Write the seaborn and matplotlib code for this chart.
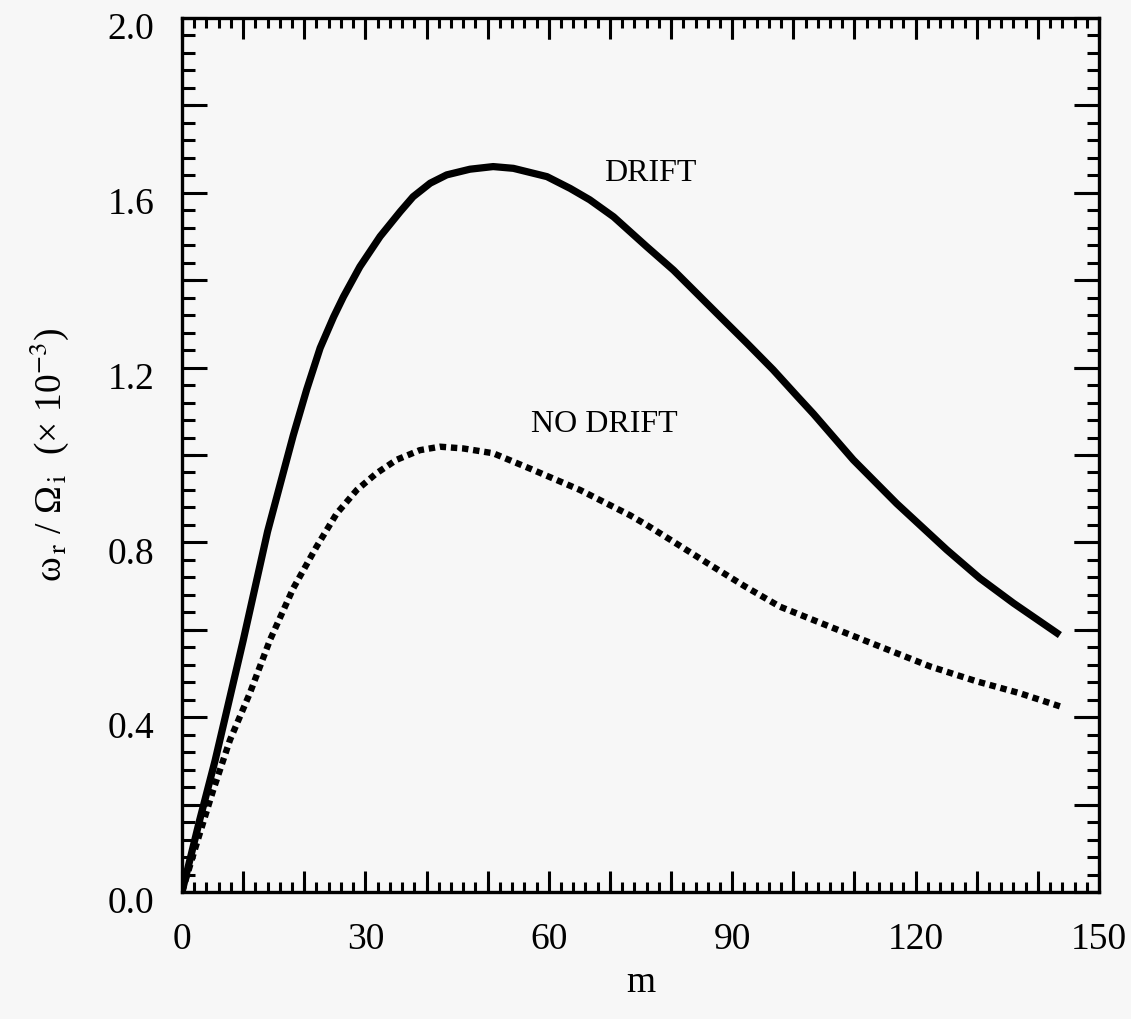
import numpy as np
import pandas as pd
import matplotlib
matplotlib.use("Agg")
import matplotlib.pyplot as plt
import matplotlib.transforms as mtransforms
from matplotlib.ticker import MultipleLocator
import seaborn as sns

# ---- data ----
m_drift = [0, 2.9, 5.4, 10.0, 14.0, 16.0, 18.2, 20.4, 22.6, 24.8, 26.4, 29.1,
           32.4, 35.7, 37.8, 40.6, 43.3, 47.1, 50.9, 54.2, 59.7, 63.5, 66.7,
           70.6, 76.0, 80.4, 84.2, 88.0, 92.4, 96.7, 100.6, 103.3, 109.8,
           116.9, 125.1, 130.5, 136.0, 143.6]
w_drift = [0, 0.165, 0.30, 0.575, 0.825, 0.93, 1.045, 1.150, 1.245, 1.316,
           1.362, 1.431, 1.500, 1.557, 1.591, 1.622, 1.641, 1.654, 1.660, 1.656,
           1.637, 1.610, 1.584, 1.545, 1.477, 1.423, 1.370, 1.317, 1.256, 1.195,
           1.135, 1.094, 0.989, 0.889, 0.783, 0.718, 0.661, 0.588]

m_nodrift = [0, 2.4, 5.1, 7.85, 11.1, 14.4, 18.2, 22.0, 25.3, 28.6, 31.8, 35.1,
             38.9, 42.2, 46.0, 50.9, 56.9, 65.1, 73.3, 76.0, 80.0, 86.0, 92.0,
             97.8, 108.7, 122.4, 130.0, 137.0, 144.0]
w_nodrift = [0, 0.111, 0.233, 0.348, 0.455, 0.577, 0.695, 0.790, 0.866, 0.920,
             0.958, 0.989, 1.011, 1.019, 1.015, 1.004, 0.969, 0.920, 0.862,
             0.840, 0.805, 0.752, 0.700, 0.653, 0.592, 0.516, 0.482, 0.455,
             0.423]

x_ticklabels = [0, 30, 60, 90, 120, 150]
y_ticklabels = [0.0, 0.4, 0.8, 1.2, 1.6, 2.0]

df = pd.concat([
    pd.DataFrame({"m": m_drift, "w": w_drift, "case": "DRIFT"}),
    pd.DataFrame({"m": m_nodrift, "w": w_nodrift, "case": "NO DRIFT"}),
])

sns.set_theme(style="white")
bg = "#f7f7f7"
plt.rcParams["font.family"] = ["Liberation Serif", "DejaVu Serif"]
plt.rcParams["mathtext.fontset"] = "stix"
plt.rcParams["text.color"] = "black"
plt.rcParams["axes.labelcolor"] = "black"
plt.rcParams["xtick.color"] = "black"
plt.rcParams["ytick.color"] = "black"

fig = plt.figure(figsize=(11.31, 10.19), dpi=100, facecolor=bg)
ax = fig.add_axes([182 / 1131, 1 - 892 / 1019, (1099 - 182) / 1131, (892 - 18) / 1019])
ax.set_facecolor(bg)

sns.lineplot(data=df[df.case == "DRIFT"], x="m", y="w", ax=ax, color="black",
             lw=5.2, estimator=None, sort=False, solid_capstyle="butt",
             solid_joinstyle="round")
sns.lineplot(data=df[df.case == "NO DRIFT"], x="m", y="w", ax=ax, color="black",
             lw=4.6, estimator=None, sort=False, linestyle=(0, (1, 0.75)),
             dash_capstyle="butt")

ax.set_xlim(0, 150)
ax.set_ylim(0, 2.0)
ax.set_xticks(x_ticklabels)
ax.set_xticklabels([str(v) for v in x_ticklabels])
ax.set_yticks(y_ticklabels)
ax.set_yticklabels([f"{v:.1f}" for v in y_ticklabels])

# extra unlabeled major ticks (every 10 / 0.2) and minors (every 2 / 0.04)
ax.xaxis.set_minor_locator(MultipleLocator(2))
ax.yaxis.set_minor_locator(MultipleLocator(0.04))
for loc in ("bottom", "top"):
    sx = ax.secondary_xaxis(loc)
    sx.set_xticks(np.arange(0, 151, 10))
    sx.tick_params(direction="in", length=15, width=2.2,
                   labelbottom=False, labeltop=False)
    sx.spines[loc].set_visible(False)
for loc in ("left", "right"):
    sy = ax.secondary_yaxis(loc)
    sy.set_yticks(np.arange(0, 2.01, 0.2))
    sy.tick_params(direction="in", length=18, width=2.2,
                   labelleft=False, labelright=False)
    sy.spines[loc].set_visible(False)

ax.tick_params(which="major", direction="in", length=15, width=2.2,
               top=True, right=True, labelsize=27, colors="black")
ax.tick_params(axis="x", which="major", pad=22)
ax.tick_params(axis="y", which="major", pad=20, length=18)
ax.tick_params(which="minor", direction="in", length=7, width=2.2,
               top=True, right=True, bottom=True, left=True)
ax.tick_params(axis="y", which="minor", length=9)

offset = mtransforms.ScaledTranslation(0, -8 / 100, fig.dpi_scale_trans)
for lab in ax.get_yticklabels():
    lab.set_transform(lab.get_transform() + offset)

for s in ax.spines.values():
    s.set_visible(True)
    s.set_linewidth(2.4)
    s.set_color("black")

ax.set_xlabel("m", fontsize=27, labelpad=6)
ax.set_ylabel("ω$_{\\,\\mathrm{r}}$ / Ω$_{\\,\\mathrm{i}}$  (× 10$^{-3}$)",
              fontsize=27, labelpad=26)

ax.text(69, 1.645, "DRIFT", fontsize=23, ha="left", va="center", color="black")
ax.text(57.1, 1.07, "NO DRIFT", fontsize=23, ha="left", va="center", color="black")

fig.savefig("out.png", dpi=100, facecolor=bg)
